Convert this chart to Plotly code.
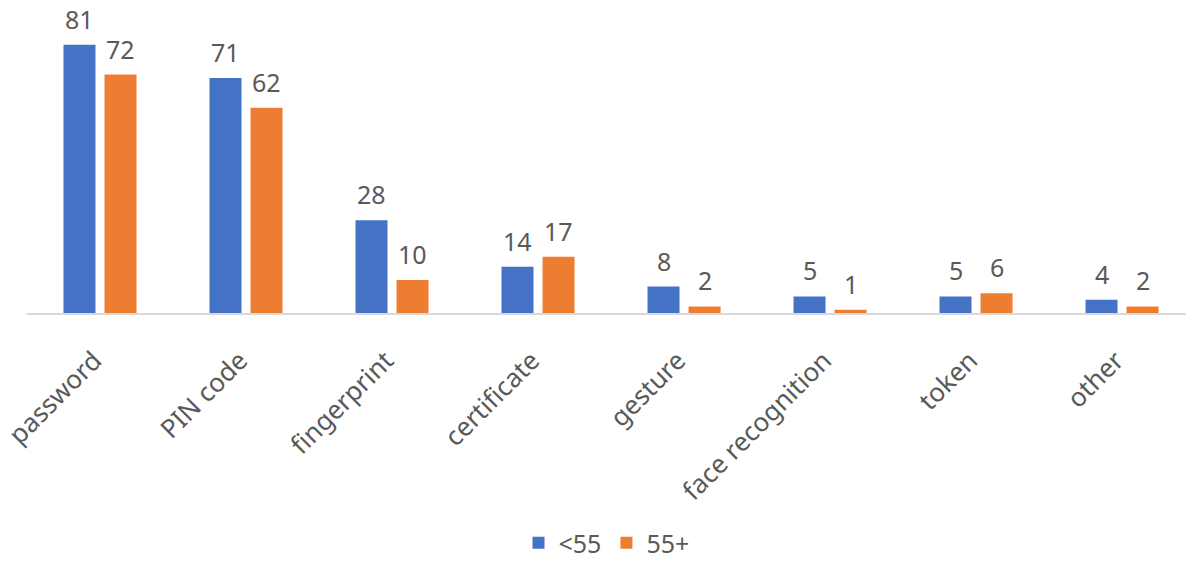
import plotly.graph_objects as go

categories = ["password", "PIN code", "fingerprint", "certificate", "gesture",
              "face recognition", "token", "other"]
under55 = [81, 71, 28, 14, 8, 5, 5, 4]
over55 = [72, 62, 10, 17, 2, 1, 6, 2]

BLUE = "#4472C4"
ORANGE = "#ED7D31"
TEXT = "#595959"
FONT = "Noto Sans"

fig = go.Figure()
fig.add_bar(x=categories, y=under55, name="<55", marker=dict(color=BLUE, line=dict(width=0)))
fig.add_bar(x=categories, y=over55, name="55+", marker=dict(color=ORANGE, line=dict(width=0)))

# value labels above each bar
annotations = []
for series, shift in ((under55, -20.5), (over55, 20.5)):
    for cat, val in zip(categories, series):
        annotations.append(dict(
            x=cat, y=val, xref="x", yref="y", text=str(val), showarrow=False,
            xshift=shift, yshift=7, yanchor="bottom",
            font=dict(family=FONT, size=25, color=TEXT),
        ))

fig.update_layout(
    width=1186, height=570,
    margin=dict(l=27, r=0, t=10, b=257, autoexpand=False),
    paper_bgcolor="white", plot_bgcolor="white",
    barmode="group", bargap=0.438, bargroupgap=0.22,
    annotations=annotations,
    showlegend=True,
    legend=dict(orientation="h", x=0.5, xanchor="center", y=-0.835, yanchor="bottom",
                font=dict(family=FONT, size=25, color=TEXT), itemwidth=30,
                traceorder="normal"),
    xaxis=dict(range=[-0.5, 7.438], tickangle=-45, showline=True, linecolor="#D9D9D9",
               linewidth=2, showgrid=False, ticks="", ticklabelstandoff=20,
               ticklabelshift=-6, automargin=False,
               tickfont=dict(family=FONT, size=26, color=TEXT)),
    yaxis=dict(range=[0, 91.5], visible=False, showgrid=False, zeroline=False,
               automargin=False),
)

fig.write_html("out.html")
